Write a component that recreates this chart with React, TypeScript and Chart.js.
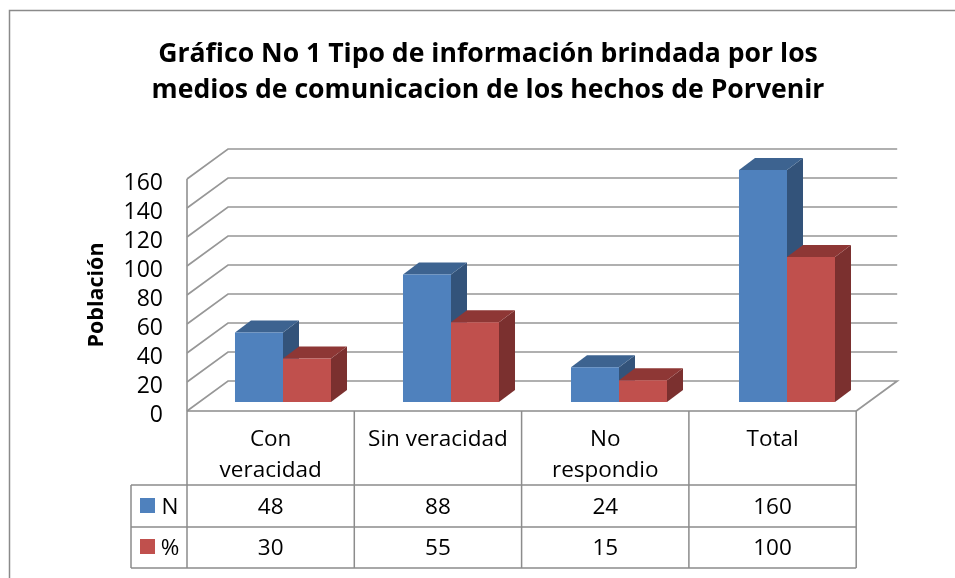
import React, { useEffect, useRef } from "react";
import { Chart, registerables } from "chart.js";

Chart.register(...registerables);

const chartTitle = [
  "Gráfico No 1 Tipo de información brindada por los",
  "medios de comunicacion de los hechos de Porvenir",
];
const yAxisTitle = "Población";
const categoryLines = [["Con", "veracidad"], ["Sin veracidad"], ["No", "respondio"], ["Total"]];
const categories = categoryLines.map((l) => l.join(" "));
const seriesN = [48, 88, 24, 160];
const seriesPct = [30, 55, 15, 100];
const seriesNames = ["N", "%"];
const FACE = ["#4F81BD", "#C0504D"];
const SIDE = ["#33537A", "#7B302F"];
const TOP = ["#3D6390", "#8E3735"];
const GRID = "#979797";
const TABLE = "#8C8C8C";
const FONT = "'Open Sans', sans-serif";
const TEXT = "#000000";

// 3D projection offsets
const DEPTH_X = 41, DEPTH_Y = 30; // wall depth
const FLOOR_X = 12, FLOOR_Y = 9; // gap between front of floor and bars
const BAR_X = 16, BAR_Y = 12; // bar extrusion
const FRONT_RATIO = 167.3 / 168; // front plane is a little narrower than the bar plane

const walls3d = {
  id: "walls3d",
  beforeDatasetsDraw(chart: any) {
    const { ctx, scales, chartArea } = chart;
    const y = scales.y;
    const x0 = chartArea.left - FLOOR_X;
    const x1 = x0 + (chartArea.right - chartArea.left) * FRONT_RATIO;
    ctx.save();
    // outer frame
    ctx.strokeStyle = "#8A8A8A";
    ctx.lineWidth = 1.5;
    ctx.beginPath();
    ctx.moveTo(9.5, 578);
    ctx.lineTo(9.5, 10.5);
    ctx.lineTo(955, 10.5);
    ctx.stroke();

    ctx.strokeStyle = GRID;
    ctx.lineWidth = 1.7;
    y.ticks.forEach((t: any) => {
      const py = y.getPixelForValue(t.value) + FLOOR_Y;
      ctx.beginPath();
      ctx.moveTo(x0, py);
      ctx.lineTo(x0 + DEPTH_X, py - DEPTH_Y);
      ctx.lineTo(x1 + DEPTH_X, py - DEPTH_Y);
      if (t.value === 0) ctx.lineTo(x1, py);
      ctx.stroke();
    });
    ctx.beginPath();
    ctx.moveTo(x0, y.getPixelForValue(160) + FLOOR_Y);
    ctx.lineTo(x0, y.getPixelForValue(0) + FLOOR_Y);
    ctx.stroke();

    // bar extrusion
    chart.data.datasets.forEach((_: any, d: number) => {
      chart.getDatasetMeta(d).data.forEach((bar: any) => {
        const l = bar.x - bar.width / 2;
        const r = bar.x + bar.width / 2;
        ctx.fillStyle = SIDE[d];
        ctx.beginPath();
        ctx.moveTo(r, bar.y);
        ctx.lineTo(r + BAR_X, bar.y - BAR_Y);
        ctx.lineTo(r + BAR_X, bar.base - BAR_Y);
        ctx.lineTo(r, bar.base);
        ctx.closePath();
        ctx.fill();
        ctx.fillStyle = TOP[d];
        ctx.beginPath();
        ctx.moveTo(l, bar.y);
        ctx.lineTo(l + BAR_X, bar.y - BAR_Y);
        ctx.lineTo(r + BAR_X, bar.y - BAR_Y);
        ctx.lineTo(r, bar.y);
        ctx.closePath();
        ctx.fill();
      });
    });
    ctx.restore();
  },
  afterDraw(chart: any) {
    const { ctx, scales, chartArea } = chart;
    const xs = scales.x;
    const ys = scales.y;
    const step = (xs.getPixelForValue(1) - xs.getPixelForValue(0)) * FRONT_RATIO;
    const edge = (i: number) => chartArea.left - FLOOR_X + i * step;
    const n = categories.length;
    const topY = ys.getPixelForValue(0) + FLOOR_Y;
    const rowY = [485, 527, 568];
    const legendL = 131;

    ctx.save();
    // y axis title
    ctx.fillStyle = TEXT;
    ctx.font = `bold 21.5px ${FONT}`;
    ctx.textAlign = "center";
    ctx.textBaseline = "middle";
    ctx.translate(97, 295);
    ctx.rotate(-Math.PI / 2);
    ctx.fillText(yAxisTitle, 0, 0);
    ctx.setTransform(1, 0, 0, 1, 0, 0);

    // table rules
    ctx.strokeStyle = TABLE;
    ctx.lineWidth = 1.5;
    ctx.beginPath();
    ctx.moveTo(edge(0), topY);
    ctx.lineTo(edge(n), topY);
    rowY.forEach((ry) => {
      ctx.moveTo(legendL, ry);
      ctx.lineTo(edge(n), ry);
    });
    for (let i = 0; i <= n; i++) {
      ctx.moveTo(edge(i), topY);
      ctx.lineTo(edge(i), rowY[2]);
    }
    ctx.moveTo(legendL, rowY[0]);
    ctx.lineTo(legendL, rowY[2]);
    ctx.stroke();

    // table text
    ctx.font = `22.5px ${FONT}`;
    ctx.fillStyle = TEXT;
    categoryLines.forEach((lines, i) => {
      const cx = edge(i) + step / 2;
      lines.forEach((ln, k) => ctx.fillText(ln, cx, 440 + k * 31));
      chart.data.datasets.forEach((ds: any, d: number) => {
        ctx.fillText(String(ds.data[i]), cx, 508 + d * 41);
      });
    });
    // legend keys
    chart.data.datasets.forEach((ds: any, d: number) => {
      const cy = 506 + d * 41;
      ctx.fillStyle = FACE[d];
      ctx.fillRect(140, cy - 8, 15, 15);
      ctx.fillStyle = TEXT;
      ctx.fillText(ds.label, 170, cy + 2);
    });
    ctx.restore();
  },
};

export default function App() {
  const ref = useRef<HTMLCanvasElement | null>(null);
  useEffect(() => {
    const chart = new Chart(ref.current as HTMLCanvasElement, {
      type: "bar",
      data: {
        labels: categories,
        datasets: [
          { label: seriesNames[0], data: seriesN, backgroundColor: FACE[0] },
          { label: seriesNames[1], data: seriesPct, backgroundColor: FACE[1] },
        ],
      },
      plugins: [walls3d],
      options: {
        animation: false,
        responsive: false,
        events: [],
        layout: { padding: { left: 105, right: 84, top: 0, bottom: 176 } },
        datasets: { bar: { categoryPercentage: 0.5715, barPercentage: 1 } },
        plugins: {
          legend: { display: false },
          tooltip: { enabled: false },
          title: {
            display: true,
            text: chartTitle,
            color: TEXT,
            font: { family: FONT, size: 26.6, weight: "bold", lineHeight: 36.6 / 26.6 },
            padding: { top: 36, bottom: 60.8 },
          },
        },
        scales: {
          x: { display: false },
          y: {
            min: 0,
            max: 160,
            grid: { display: false, drawTicks: false },
            border: { display: false },
            afterFit: (s: any) => {
              s.width = 94;
            },
            ticks: {
              stepSize: 20,
              autoSkip: false,
              padding: 36,
              labelOffset: 13.5,
              color: TEXT,
              font: { family: FONT, size: 23 },
            },
          },
        },
      },
    } as any);
    return () => chart.destroy();
  }, []);
  return (
    <div style={{ position: "absolute", left: 0, top: 0, width: 955, height: 578, background: "#fff" }}>
      <canvas ref={ref} width={955} height={578} style={{ display: "block" }} />
    </div>
  );
}
